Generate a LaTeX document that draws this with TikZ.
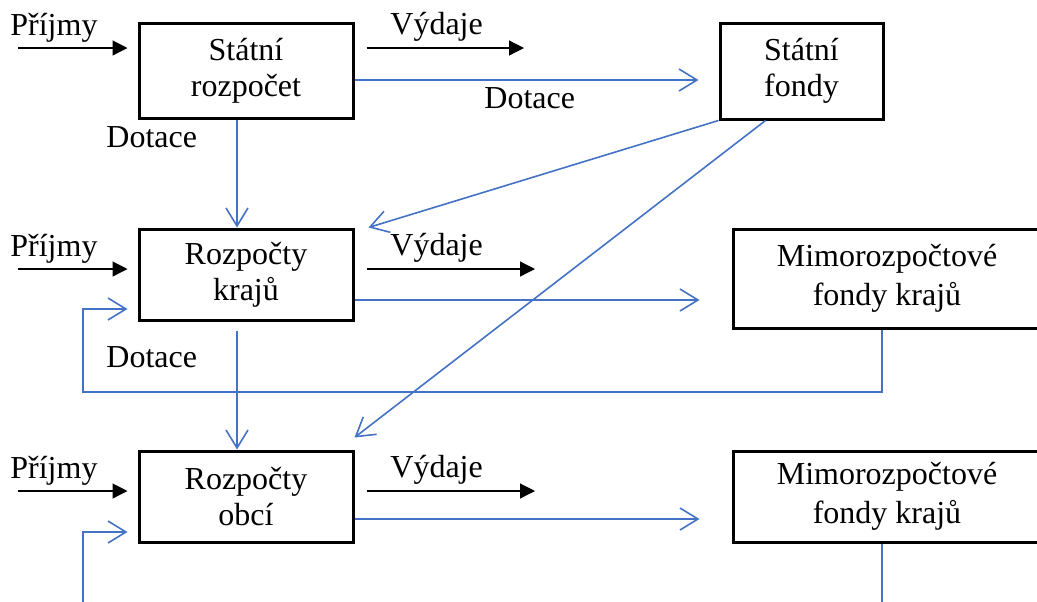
\documentclass[tikz,border=0pt]{standalone}
\usepackage{fontspec}
\setmainfont{Liberation Serif}
\usetikzlibrary{arrows.meta,positioning,calc}
\definecolor{modra}{HTML}{4472C4}

\begin{document}
\begin{tikzpicture}[x=.5pt, y=-.5pt,
		font=\fontsize{16pt}{18pt}\selectfont,
		blok/.style={draw, line width=1.5pt, align=center, inner sep=0pt,
			minimum width=107pt, minimum height=45.5pt},
		popis/.style={anchor=base west, inner sep=0pt},
		cerna/.style={line width=.6pt, -{Triangle[length=7.5pt,width=7.5pt]}},
		sipka/.style={draw=modra, line width=.8pt, -{Straight Barb[length=9pt,width=11pt]}},
		linka/.style={draw=modra, line width=.8pt}]
	\useasboundingbox (0,0) rectangle (1037,601);
	% bloky
	\node[blok, minimum height=47.5pt] (sr) at (246,70.5) {Státní\\rozpočet};
	\node[blok] (rk) at (246,274.5) {Rozpočty\\krajů};
	\node[blok] (ro) at (246,496.5) {Rozpočty\\obcí};
	\node[blok, minimum width=81.5pt, minimum height=48pt] (sf) at (801.5,71) {Státní\\fondy};
	\node[blok, minimum width=154pt, minimum height=49.5pt] (mk) at (887,278.5) {Mimorozpočtové\\[1.5pt]fondy krajů};
	\node[blok, minimum width=154pt] (mo) at (887,496.5) {Mimorozpočtové\\[1.5pt]fondy krajů};
	%
	% prijmy a vydaje
	\foreach \b/\y/\v in {sr/48/524, rk/269/535, ro/491/535} {
		\coordinate (prijmy-\b) at (18,\y);
		\coordinate (vydaje-\b) at (\v,\y);
		\node[popis] (lp-\b) at (10,\y-12.5) {Příjmy};
		\node[popis] (lv-\b) at (390,\y-14) {Výdaje};
		\draw[cerna, shorten >=5pt] (prijmy-\b) -- (prijmy-\b -| \b.west);
		\draw[cerna, shorten <=6pt] (vydaje-\b -| \b.east) -- (vydaje-\b);
	}
	%
	% dotace
	\draw[sipka, shorten >=10pt] (sr.east |- 0,80) -- (sf.west |- 0,80);
	\draw[sipka, shorten >=16pt] (rk.east |- 0,300) -- (mk.west |- 0,300);
	\draw[sipka, shorten >=16pt] (ro.east |- 0,519) -- (mo.west |- 0,519);
	\draw[sipka] ([xshift=-4.5pt]sr.south) -- ([xshift=-4.5pt]rk.north);
	\draw[sipka] ([shift={(-4.5pt,-4.5pt)}]rk.south) -- ([xshift=-4.5pt]ro.north);
	\draw[sipka] (sf.south west) -- ([xshift=7pt]rk.north east);
	\draw[sipka] ([xshift=-18pt]sf.south) -- ([yshift=6pt]ro.north east);
	\node[popis] (dot-sf) at (484,108) {Dotace};
	\node[popis] (dot-rk) at (106,147) {Dotace};
	\node[popis] (dot-ro) at (106,367) {Dotace};
	%
	% zpet z mimorozpoctovych fondu
	\coordinate (zpet-k) at (83,392);
	\coordinate (zpet-o) at (83,610);
	\coordinate (dole-o) at (882,610);
	\draw[sipka, shorten >=5pt] ([xshift=-2.5pt]mk.south) |- (zpet-k) |- ([yshift=-17.25pt]rk.west);
	\draw[linka] ([xshift=-2.5pt]mo.south) -- (dole-o);
	\draw[sipka, shorten >=5pt] (zpet-o) |- ([yshift=-17.75pt]ro.west);
\end{tikzpicture}
\end{document}
